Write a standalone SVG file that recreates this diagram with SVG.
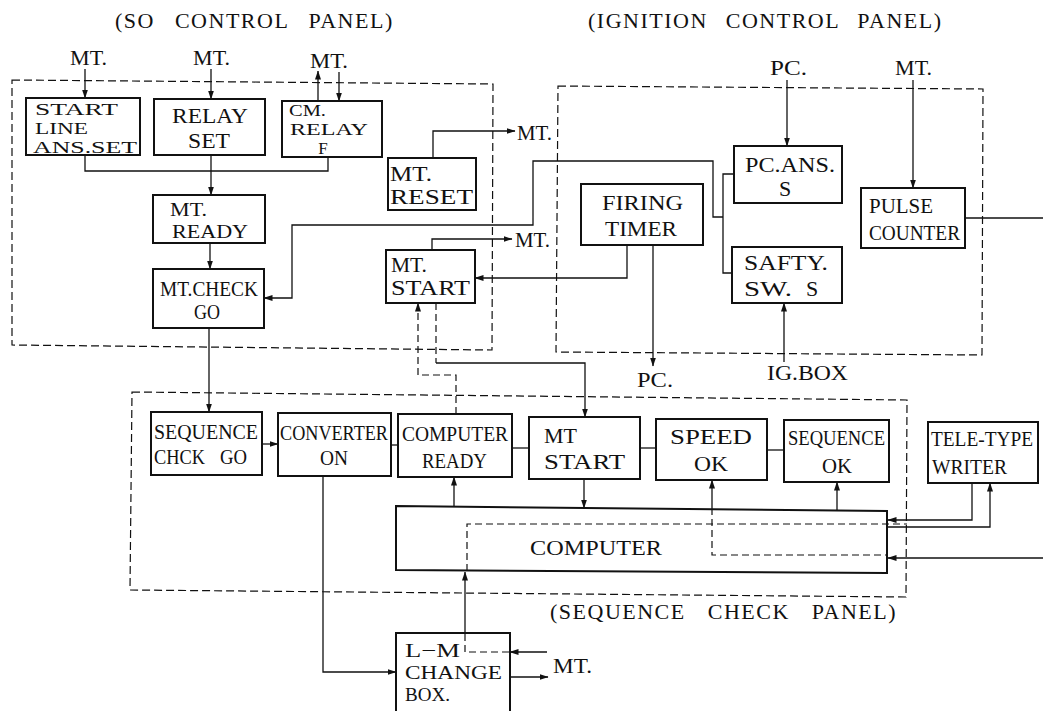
<svg xmlns="http://www.w3.org/2000/svg" width="1043" height="711" viewBox="0 0 1043 711">
<style>
text{font-family:"Liberation Serif","Times New Roman",serif;font-size:22px;fill:#111}
.sm{font-size:17px}
.md{font-size:19.5px}
.ttl{font-size:22px;letter-spacing:1.5px;word-spacing:13px}
.box{fill:#fff;stroke:#111;stroke-width:2}
.ln{fill:none;stroke:#111;stroke-width:1.3}
.dl{fill:none;stroke:#111;stroke-width:1.2;stroke-dasharray:7 4}
.panel{fill:none;stroke:#111;stroke-width:1.2;stroke-dasharray:8 4}
</style>
<defs>
<marker id="ah" markerWidth="9" markerHeight="7" refX="8.5" refY="3" orient="auto" markerUnits="userSpaceOnUse">
<path d="M0,0 L9,3 L0,6 z" fill="#111"/>
</marker>
</defs>
<rect width="1043" height="711" fill="#fff"/>

<g id="panels">
<path class="panel" d="M12,80 L493,84 L492,350 L12,345 Z"/>
<path class="panel" d="M558,86 L983,89 L982,355 L556,352 Z"/>
<path class="panel" d="M132,392 L907,400 L906,597 L130,590 Z"/>
<text class="ttl" x="115" y="28">(SO CONTROL PANEL)</text>
<text class="ttl" x="588" y="28" style="word-spacing:11px">(IGNITION CONTROL PANEL)</text>
<text class="ttl" x="550" y="619" style="word-spacing:15px">(SEQUENCE CHECK PANEL)</text>
</g>

<g id="labels">
<text x="70" y="65" textLength="37" lengthAdjust="spacingAndGlyphs">MT.</text>
<text x="193" y="65" textLength="37" lengthAdjust="spacingAndGlyphs">MT.</text>
<text x="310" y="68" textLength="38" lengthAdjust="spacingAndGlyphs">MT.</text>
<text x="517" y="140" textLength="35" lengthAdjust="spacingAndGlyphs">MT.</text>
<text x="515" y="247" textLength="35" lengthAdjust="spacingAndGlyphs">MT.</text>
<text x="770" y="75" textLength="37" lengthAdjust="spacingAndGlyphs">PC.</text>
<text x="895" y="75" textLength="37" lengthAdjust="spacingAndGlyphs">MT.</text>
<text x="637" y="387" textLength="36" lengthAdjust="spacingAndGlyphs">PC.</text>
<text x="767" y="380" textLength="81" lengthAdjust="spacingAndGlyphs">IG.BOX</text>
<text x="553" y="673" textLength="39" lengthAdjust="spacingAndGlyphs">MT.</text>
</g>

<g id="connectors">
<line class="ln" x1="85" y1="69" x2="85" y2="98" marker-end="url(#ah)"/>
<line class="ln" x1="211" y1="69" x2="211" y2="99" marker-end="url(#ah)"/>
<line class="ln" x1="318" y1="101" x2="318" y2="71" marker-end="url(#ah)"/>
<line class="ln" x1="339" y1="72" x2="339" y2="101" marker-end="url(#ah)"/>
<polyline class="ln" points="85,155 85,171 328,171 328,157"/>
<line class="ln" x1="211" y1="155" x2="211" y2="195" marker-end="url(#ah)"/>
<line class="ln" x1="210" y1="243" x2="210" y2="269" marker-end="url(#ah)"/>
<line class="ln" x1="209" y1="328" x2="209" y2="412" marker-end="url(#ah)"/>
<polyline class="ln" points="433,158 433,131 515,131" marker-end="url(#ah)"/>
<polyline class="ln" points="432,250 432,239 512,239" marker-end="url(#ah)"/>
<polyline class="ln" points="627,245 627,278 475,278" marker-end="url(#ah)"/>
<line class="ln" x1="653" y1="245" x2="653" y2="366" marker-end="url(#ah)"/>
<line class="ln" x1="787" y1="80" x2="787" y2="146" marker-end="url(#ah)"/>
<line class="ln" x1="913" y1="80" x2="913" y2="188" marker-end="url(#ah)"/>
<line class="ln" x1="965" y1="218" x2="1043" y2="218"/>
<line class="ln" x1="784" y1="362" x2="784" y2="303" marker-end="url(#ah)"/>
<polyline class="ln" points="734,174 723,174 723,273 732,273"/>
<polyline class="ln" points="723,217 713,217 713,161 533,161 533,225 292,225 292,298 264,298" marker-end="url(#ah)"/>
<line class="ln" x1="262" y1="444" x2="278" y2="444" marker-end="url(#ah)"/>
<line class="ln" x1="391" y1="445" x2="398" y2="445"/>
<line class="ln" x1="512" y1="448" x2="529" y2="448"/>
<line class="ln" x1="640" y1="448" x2="656" y2="448"/>
<line class="ln" x1="767" y1="450" x2="784" y2="450"/>
<line class="ln" x1="454" y1="507" x2="454" y2="477" marker-end="url(#ah)"/>
<line class="ln" x1="584" y1="479" x2="584" y2="508" marker-end="url(#ah)"/>
<line class="ln" x1="712" y1="508" x2="712" y2="480" marker-end="url(#ah)"/>
<line class="ln" x1="837" y1="510" x2="837" y2="482" marker-end="url(#ah)"/>
<polyline class="ln" points="972,483 972,520 888,520" marker-end="url(#ah)"/>
<polyline class="ln" points="888,527 990,527 990,483" marker-end="url(#ah)"/>
<line class="ln" x1="1043" y1="558" x2="888" y2="558" marker-end="url(#ah)"/>
<polyline class="dl" points="712,508 712,555 887,555"/>
<polyline class="dl" points="467,571 467,524 907,524"/>
<line class="ln" x1="465" y1="633" x2="465" y2="572" marker-end="url(#ah)"/>
<polyline class="dl" points="465,634 465,652 510,652"/>
<line class="ln" x1="547" y1="652" x2="510" y2="652" marker-end="url(#ah)"/>
<line class="ln" x1="510" y1="677" x2="548" y2="677" marker-end="url(#ah)"/>
<polyline class="ln" points="323,476 323,672 396,672" marker-end="url(#ah)"/>
<polyline class="dl" points="456,414 456,375 418,375 418,303" marker-end="url(#ah)"/>
<polyline class="dl" points="436,303 436,363"/>
<polyline class="ln" points="436,363 585,363 585,417" marker-end="url(#ah)"/>
</g>

<g id="start-line-ans-set">
<rect class="box" x="26" y="98" width="114" height="57"/>
<text class="sm" x="35" y="115" textLength="83" lengthAdjust="spacingAndGlyphs">START</text>
<text class="sm" x="35" y="134" textLength="53" lengthAdjust="spacingAndGlyphs">LINE</text>
<text class="sm" x="33" y="153" textLength="104" lengthAdjust="spacingAndGlyphs">ANS.SET</text>
</g>
<g id="relay-set">
<rect class="box" x="154" y="99" width="111" height="56"/>
<text x="172" y="123" textLength="76" lengthAdjust="spacingAndGlyphs">RELAY</text>
<text x="188" y="148" textLength="42" lengthAdjust="spacingAndGlyphs">SET</text>
</g>
<g id="cm-relay-f">
<rect class="box" x="282" y="101" width="100" height="56"/>
<text class="sm" x="289" y="116" textLength="37" lengthAdjust="spacingAndGlyphs">CM.</text>
<text class="sm" x="290" y="135" textLength="78" lengthAdjust="spacingAndGlyphs">RELAY</text>
<text class="sm" x="323" y="154" text-anchor="middle">F</text>
</g>
<g id="mt-reset">
<rect class="box" x="388" y="158" width="88" height="52"/>
<text x="390" y="181" textLength="42" lengthAdjust="spacingAndGlyphs">MT.</text>
<text x="390" y="204" textLength="83" lengthAdjust="spacingAndGlyphs">RESET</text>
</g>
<g id="mt-ready">
<rect class="box" x="153" y="195" width="112" height="48"/>
<text class="md" x="170" y="216" textLength="37" lengthAdjust="spacingAndGlyphs">MT.</text>
<text class="md" x="172" y="238" textLength="76" lengthAdjust="spacingAndGlyphs">READY</text>
</g>
<g id="mt-check-go">
<rect class="box" x="153" y="269" width="111" height="59"/>
<text x="160" y="296" textLength="98" lengthAdjust="spacingAndGlyphs">MT.CHECK</text>
<text x="194" y="319" textLength="26" lengthAdjust="spacingAndGlyphs">GO</text>
</g>
<g id="mt-start-so">
<rect class="box" x="386" y="250" width="89" height="53"/>
<text x="391" y="272" textLength="36" lengthAdjust="spacingAndGlyphs">MT.</text>
<text x="391" y="295" textLength="79" lengthAdjust="spacingAndGlyphs">START</text>
</g>
<g id="firing-timer">
<rect class="box" x="581" y="184" width="122" height="61"/>
<text x="602" y="210" textLength="81" lengthAdjust="spacingAndGlyphs">FIRING</text>
<text x="605" y="236" textLength="72" lengthAdjust="spacingAndGlyphs">TIMER</text>
</g>
<g id="pc-ans-s">
<rect class="box" x="734" y="146" width="108" height="57"/>
<text x="745" y="172" textLength="90" lengthAdjust="spacingAndGlyphs">PC.ANS.</text>
<text x="785" y="196" text-anchor="middle">S</text>
</g>
<g id="pulse-counter">
<rect class="box" x="861" y="188" width="104" height="60"/>
<text x="869" y="213" textLength="64" lengthAdjust="spacingAndGlyphs">PULSE</text>
<text x="869" y="240" textLength="91" lengthAdjust="spacingAndGlyphs">COUNTER</text>
</g>
<g id="safty-sw-s">
<rect class="box" x="732" y="247" width="110" height="56"/>
<text x="744" y="270" textLength="84" lengthAdjust="spacingAndGlyphs">SAFTY.</text>
<text y="296"><tspan x="744" textLength="48" lengthAdjust="spacingAndGlyphs">SW.</tspan> <tspan x="806">S</tspan></text>
</g>
<g id="sequence-chck-go">
<rect class="box" x="151" y="412" width="111" height="63"/>
<text x="154" y="439" textLength="104" lengthAdjust="spacingAndGlyphs">SEQUENCE</text>
<text y="464"><tspan x="154" textLength="51" lengthAdjust="spacingAndGlyphs">CHCK</tspan> <tspan x="220" textLength="27" lengthAdjust="spacingAndGlyphs">GO</tspan></text>
</g>
<g id="converter-on">
<rect class="box" x="278" y="413" width="113" height="63"/>
<text x="280" y="440" textLength="108" lengthAdjust="spacingAndGlyphs">CONVERTER</text>
<text x="320" y="465" textLength="28" lengthAdjust="spacingAndGlyphs">ON</text>
</g>
<g id="computer-ready">
<rect class="box" x="398" y="414" width="114" height="63"/>
<text x="402" y="441" textLength="106" lengthAdjust="spacingAndGlyphs">COMPUTER</text>
<text x="422" y="468" textLength="65" lengthAdjust="spacingAndGlyphs">READY</text>
</g>
<g id="mt-start-seq">
<rect class="box" x="529" y="417" width="111" height="62"/>
<text x="544" y="443" textLength="33" lengthAdjust="spacingAndGlyphs">MT</text>
<text x="544" y="469" textLength="81" lengthAdjust="spacingAndGlyphs">START</text>
</g>
<g id="speed-ok">
<rect class="box" x="656" y="419" width="111" height="61"/>
<text x="670" y="444" textLength="82" lengthAdjust="spacingAndGlyphs">SPEED</text>
<text x="694" y="471" textLength="34" lengthAdjust="spacingAndGlyphs">OK</text>
</g>
<g id="sequence-ok">
<rect class="box" x="784" y="420" width="105" height="62"/>
<text x="788" y="445" textLength="97" lengthAdjust="spacingAndGlyphs">SEQUENCE</text>
<text x="822" y="473" textLength="30" lengthAdjust="spacingAndGlyphs">OK</text>
</g>
<g id="tele-type-writer">
<rect class="box" x="928" y="422" width="110" height="61"/>
<text x="931" y="446" style="font-size:20px" textLength="102" lengthAdjust="spacingAndGlyphs">TELE-TYPE</text>
<text x="932" y="474" textLength="75" lengthAdjust="spacingAndGlyphs">WRITER</text>
</g>
<g id="computer">
<path class="box" style="fill:none" d="M396,506 L887,511 L887,573 L396,570 Z"/>
<text x="530" y="555" textLength="132" lengthAdjust="spacingAndGlyphs">COMPUTER</text>
</g>
<g id="l-m-change-box">
<path class="box" style="fill:none" d="M396,711 L396,633 L510,633 L510,711"/>
<text class="md" x="405" y="657" textLength="55" lengthAdjust="spacingAndGlyphs">L−M</text>
<text class="md" x="405" y="679" textLength="97" lengthAdjust="spacingAndGlyphs">CHANGE</text>
<text class="md" x="405" y="701" textLength="45" lengthAdjust="spacingAndGlyphs">BOX.</text>
</g>
</svg>
